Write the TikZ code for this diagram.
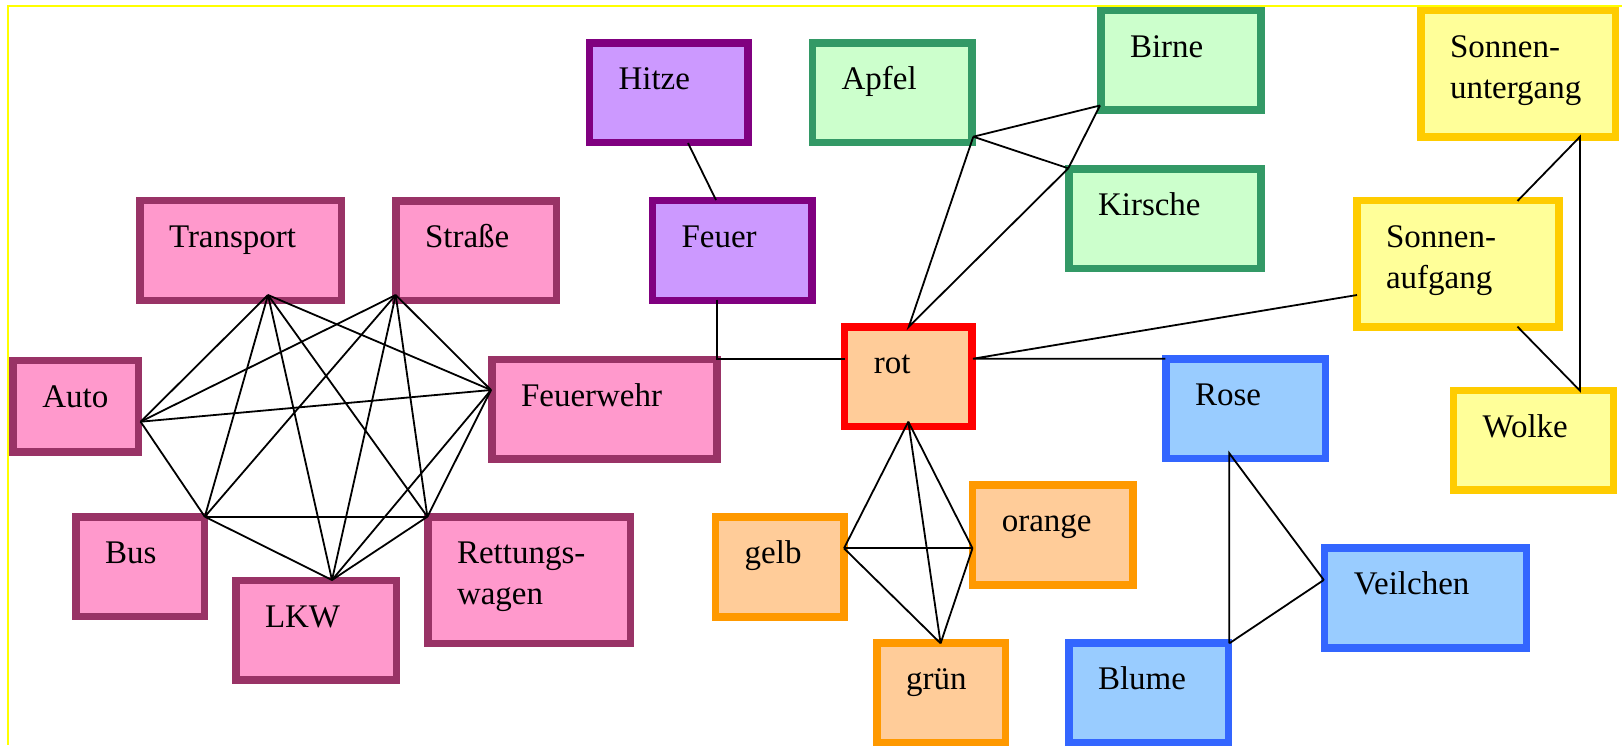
\documentclass[tikz,border=0pt]{standalone}
\usepackage{fontspec}
\setmainfont{Liberation Serif}
\usepackage{tikz}

\definecolor{pinkfill}{HTML}{FF99CC}
\definecolor{pinkline}{HTML}{993366}
\definecolor{lilafill}{HTML}{CC99FF}
\definecolor{lilaline}{HTML}{800080}
\definecolor{gruenfill}{HTML}{CCFFCC}
\definecolor{gruenline}{HTML}{339966}
\definecolor{gelbfill}{HTML}{FFFF99}
\definecolor{gelbline}{HTML}{FFCC00}
\definecolor{orangefill}{HTML}{FFCC99}
\definecolor{orangeline}{HTML}{FF9900}
\definecolor{rotline}{HTML}{FF0000}
\definecolor{blaufill}{HTML}{99CCFF}
\definecolor{blauline}{HTML}{3366FF}
\definecolor{rahmen}{HTML}{FFFF00}
\hyphenpenalty=10000

\begin{document}
\begin{tikzpicture}[x=1pt, y=-1pt,
  box/.style={draw, line width=7.5pt, anchor=north west, align=left, inner xsep=29.25pt, inner ysep=0pt, outer sep=0pt, text height=46.75pt, text depth=53pt, font=\fontsize{33}{41}\selectfont},
  pinkbox/.style={box, fill=pinkfill, draw=pinkline},
  lilabox/.style={box, fill=lilafill, draw=lilaline},
  gruenbox/.style={box, fill=gruenfill, draw=gruenline},
  gelbbox/.style={box, fill=gelbfill, draw=gelbline},
  orangebox/.style={box, fill=orangefill, draw=orangeline},
  blaubox/.style={box, fill=blaufill, draw=blauline},
  link/.style={line width=1.8pt}]
\useasboundingbox (0,0) rectangle (1622,745);
\draw[rahmen, line width=2pt] (8.3,745) -- (8.3,6) -- (1622,6);

% boxes
\node[pinkbox, text width=143pt] (transport) at (139.75,200.5) {Transport};
\node[pinkbox, text width=102pt] (strasse) at (395.75,200.75) {Straße};
\node[pinkbox, text width=66.7pt, text depth=45pt] (auto) at (13.05,360.45) {Auto};
\node[pinkbox, text width=166.7pt] (feuerwehr) at (491.75,359.45) {Feuerwehr};
\node[pinkbox, text width=70pt] (bus) at (75.75,516.75) {Bus};
\node[pinkbox, text width=102pt] (lkw) at (235.75,580.45) {LKW};
\node[pinkbox, text width=144pt, text depth=79.75pt] (rettung) at (427.75,516.75) {Rettungs-\\wagen};
\node[lilabox, text width=100pt] (hitze) at (589.25,42.75) {Hitze};
\node[lilabox, text width=101pt] (feuer) at (652.25,200.5) {Feuer};
\node[gruenbox, text width=101pt] (apfel) at (812.35,42.75) {Apfel};
\node[gruenbox, text width=101.5pt] (birne) at (1100.75,10.45) {Birne};
\node[gruenbox, text width=133.5pt] (kirsche) at (1068.75,168.75) {Kirsche};
\node[gelbbox, text width=136pt, text depth=79.75pt] (untergang) at (1420.75,10.45) {Sonnen-\\untergang};
\node[gelbbox, text width=143.7pt, text depth=79.75pt] (aufgang) at (1356.75,200.45) {Sonnen-\\aufgang};
\node[gelbbox, text width=101.5pt] (wolke) at (1453.25,390.45) {Wolke};
\node[orangebox, draw=rotline, text width=69pt] (rot) at (844.55,326.75) {rot};
\node[orangebox, text width=70.2pt] (gelb) at (715.45,517.05) {gelb};
\node[orangebox, text width=101.8pt] (orange) at (972.55,485.05) {orange};
\node[orangebox, text width=70pt] (gruen) at (876.75,643.05) {grün};
\node[blaubox, text width=101pt] (rose) at (1165.75,358.75) {Rose};
\node[blaubox, text width=101.3pt] (blume) at (1068.75,643.05) {Blume};
\node[blaubox, text width=143.5pt] (veilchen) at (1324.65,548.05) {Veilchen};

% ports
\coordinate (p-transport) at (268,295);
\coordinate (p-strasse) at (395.7,295);
\coordinate (p-auto) at (140.6,421.7);
\coordinate (p-feuerwehr) at (491,390);
\coordinate (c-feuerwehr) at (716.7,359);
\coordinate (p-bus) at (204.8,516.7);
\coordinate (p-rettung) at (427.4,516.7);
\coordinate (p-lkw) at (332,580);
\coordinate (p-hitze) at (688,143);
\coordinate (n-feuer) at (716,200);
\coordinate (s-feuer) at (716.7,299.5);
\coordinate (p-apfel) at (973.3,136.7);
\coordinate (p-birne) at (1100,105.5);
\coordinate (p-kirsche) at (1068.3,168.3);
\coordinate (n-rot) at (908.8,326.7);
\coordinate (w-rot) at (844.5,359);
\coordinate (e-rot) at (973,358.7);
\coordinate (s-rot) at (908.3,421.7);
\coordinate (p-rose) at (1165.4,358.7);
\coordinate (s-rose) at (1229.3,453.3);
\coordinate (p-aufgang) at (1357,295);
\coordinate (n-aufgang) at (1517.5,201);
\coordinate (s-aufgang) at (1517.5,326.7);
\coordinate (p-untergang) at (1580,136.7);
\coordinate (p-wolke) at (1580,390.7);
\coordinate (p-gelb) at (844,548.3);
\coordinate (p-orange) at (972.5,548.3);
\coordinate (p-gruen) at (940.6,643.3);
\coordinate (p-blume) at (1229.3,643.3);
\coordinate (p-veilchen) at (1323.8,580);

% links
\foreach \a/\b in {transport/auto, transport/bus, transport/lkw, transport/rettung, transport/feuerwehr,
  strasse/auto, strasse/bus, strasse/lkw, strasse/rettung, strasse/feuerwehr,
  auto/feuerwehr, auto/bus, bus/rettung, bus/lkw, lkw/rettung, lkw/feuerwehr, rettung/feuerwehr,
  apfel/birne, apfel/kirsche, kirsche/birne, gelb/orange, gelb/gruen, orange/gruen, veilchen/blume}
  \draw[link] (p-\a) -- (p-\b);
\draw[link] (p-hitze) -- (n-feuer);
\draw[link] (s-feuer) -- (c-feuerwehr) -- (w-rot);
\draw[link] (p-apfel) -- (n-rot) -- (p-kirsche);
\draw[link] (p-rose) -- (e-rot) -- (p-aufgang);
\draw[link] (n-aufgang) -- (p-untergang) -- (p-wolke) -- (s-aufgang);
\foreach \b in {gelb, orange, gruen}
  \draw[link] (s-rot) -- (p-\b);
\draw[link] (p-blume) -- (s-rose) -- (p-veilchen);
\end{tikzpicture}
\end{document}
